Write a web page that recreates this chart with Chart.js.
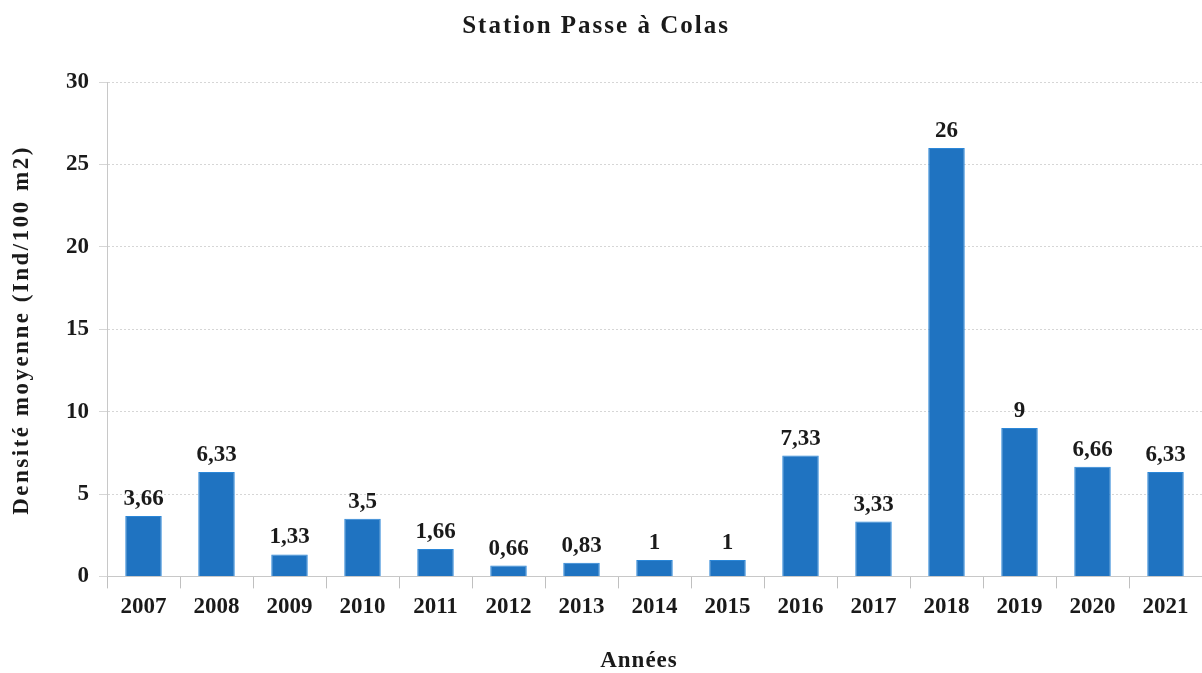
<!DOCTYPE html>
<html>
<head>
<meta charset="utf-8">
<script src="https://cdn.jsdelivr.net/npm/chart.js@4.4.1/dist/chart.umd.min.js"></script>
<style>
  html, body { margin: 0; padding: 0; background: #fff; overflow: hidden; }
  #wrap { width: 1202px; height: 673px; position: relative; }
</style>
</head>
<body>
<div id="wrap"><canvas id="myChart"></canvas></div>
<script>
const years = ["2007", "2008", "2009", "2010", "2011", "2012", "2013", "2014",
  "2015", "2016", "2017", "2018", "2019", "2020", "2021"];
const densite = [3.66, 6.33, 1.33, 3.5, 1.66, 0.66, 0.83, 1, 1, 7.33, 3.33, 26, 9, 6.66, 6.33];
const yTicks = [0, 5, 10, 15, 20, 25, 30];

const serif = "'Liberation Serif', 'DejaVu Serif', serif";
const ink = "#1a1a1a";

// value labels above bars (decimal comma) + spaced-out titles
const textLayer = {
  id: "textLayer",
  afterDatasetsDraw(chart) {
    const ctx = chart.ctx;
    const meta = chart.getDatasetMeta(0);
    ctx.save();
    ctx.font = "bold 23px " + serif;
    ctx.fillStyle = ink;
    ctx.textAlign = "center";
    ctx.textBaseline = "alphabetic";
    meta.data.forEach((bar, i) => {
      ctx.fillText(String(densite[i]).replace(".", ","), bar.x, bar.y - 11);
    });
    ctx.restore();
  },
  afterDraw(chart) {
    const ctx = chart.ctx;
    ctx.save();
    ctx.fillStyle = ink;
    ctx.textAlign = "center";
    ctx.textBaseline = "middle";

    ctx.letterSpacing = "2px";
    ctx.font = "bold 25px " + serif;
    ctx.fillText("Station Passe à Colas", 596, 27);

    ctx.letterSpacing = "1px";
    ctx.font = "bold 23px " + serif;
    ctx.fillText("Années", 639, 661);

    ctx.translate(22, 330);
    ctx.rotate(-Math.PI / 2);
    ctx.letterSpacing = "2.5px";
    ctx.font = "bold 23px " + serif;
    ctx.fillText("Densité moyenne (Ind/100 m2)", 0, 0);
    ctx.restore();
  },
};

new Chart(document.getElementById("myChart"), {
  type: "bar",
  data: {
    labels: years,
    datasets: [
      {
        data: densite,
        backgroundColor: "#1f73c1",
        borderColor: "#2b87d8",
        borderWidth: 1,
        categoryPercentage: 1,
        barPercentage: 0.5,
      },
    ],
  },
  options: {
    responsive: true,
    maintainAspectRatio: false,
    animation: false,
    layout: { padding: { top: 82, right: 0, left: 56, bottom: 47 } },
    scales: {
      y: {
        min: 0,
        max: 30,
        afterBuildTicks: (axis) => { axis.ticks = yTicks.map((v) => ({ value: v })); },
        border: { color: "#c8c8c8", dash: [2, 2] },
        grid: { color: "#d6d6d6", tickLength: 8 },
        ticks: {
          color: ink,
          padding: 10,
          font: { family: serif, size: 23, weight: "bold" },
        },
      },
      x: {
        offset: true,
        border: { color: "#c8c8c8" },
        grid: { offset: true, drawOnChartArea: false, color: "#c0c0c0", tickLength: 12 },
        ticks: {
          color: ink,
          padding: 5,
          font: { family: serif, size: 23, weight: "bold" },
        },
      },
    },
    plugins: {
      legend: { display: false },
      tooltip: { enabled: false },
    },
  },
  plugins: [textLayer],
});
</script>
</body>
</html>
